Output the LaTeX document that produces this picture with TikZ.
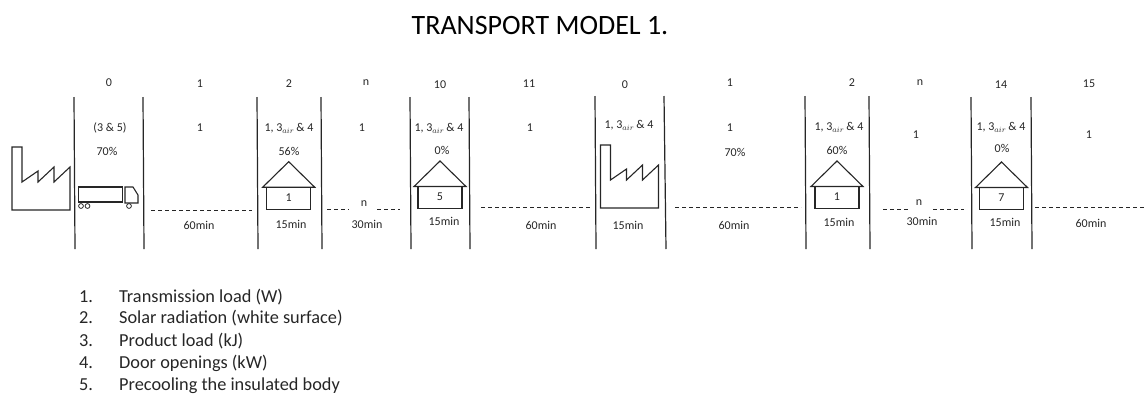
\documentclass[tikz,border=0pt]{standalone}
\usepackage{fontspec}
\setmainfont{Carlito}
\definecolor{ink}{gray}{0.15}
\tikzset{
  x=1pt,y=-1pt,
  lbl/.style={text=ink,font=\fontsize{12}{14}\selectfont,inner sep=0pt,anchor=center},
  wall/.style={draw=ink,line width=1.2pt},
  outline/.style={draw=ink,line width=1.1pt},
  dash line/.style={draw=ink,line width=0.9pt,dash pattern=on 4pt off 3pt},
  listitem/.style={text=ink,font=\fontsize{18.3}{20}\selectfont,inner sep=0pt,anchor=base west},
}
\newcommand{\airlbl}{1, 3$_{air}$\,\& 4}
\newcommand{\housepic}[3]{% x-apex, y-apex, label
  \draw[outline] (#1-26,#2+25.5) -- (#1,#2) -- (#1+26,#2+25.5) -- cycle;
  \draw[outline] (#1-22,#2+25.5) rectangle (#1+22,#2+47.5);
  \node[lbl] (house#3) at (#1,#2+35.5) {#3};
}
\newcommand{\factorypic}[2]{% left x, bottom y
  \draw[outline] (#1,#2) -- (#1,#2-63) -- (#1+10,#2-63) -- (#1+10,#2-28) -- (#1+26,#2-39) -- (#1+26,#2-28) -- (#1+42,#2-43) -- (#1+42,#2-28) -- (#1+58,#2-43) -- (#1+58,#2) -- cycle;
}
\begin{document}
\begin{tikzpicture}
\useasboundingbox (0,0) rectangle (1145,394);
\node[text=black,font=\fontsize{28}{30}\selectfont,inner sep=0pt] (title) at (540,26) {TRANSPORT MODEL 1.};

% vertical walls
\foreach \n/\xa/\xb/\ya in {a/74/75/97,b/143/144/97,c/257/258/97,d/321/322/97,e/410/411/97,f/469/470/97,g/595/596/96,h/664/666/96,i/805/806/96,j/869/870/96,k/971/972/97,l/1031/1032/97}{
  \coordinate (w\n t) at (\xa,\ya);
  \coordinate (w\n b) at (\xb,249);
  \draw[wall] (w\n t) -- (w\n b);
}

% top numbers
\node[lbl] (t1) at (109,83) {0};
\node[lbl] (t2) at (200,84) {1};
\node[lbl] (t3) at (289,84) {2};
\node[lbl] (t4) at (366,83) {n};
\node[lbl] (t5) at (440,85) {10};
\node[lbl] (t6) at (529,84) {11};
\node[lbl] (t7) at (625,85) {0};
\node[lbl] (t8) at (730,83) {1};
\node[lbl] (t9) at (852,83) {2};
\node[lbl] (t10) at (920,83) {n};
\node[lbl] (t11) at (1001,85) {14};
\node[lbl] (t12) at (1089,84) {15};

% load labels
\node[lbl] (l1) at (110,128) {(3 \& 5)};
\node[lbl] (l2) at (200,128) {1};
\node[lbl] (l3) at (289,128) {\airlbl};
\node[lbl] (l4) at (362,128) {1};
\node[lbl] (l5) at (439,128) {\airlbl};
\node[lbl] (l6) at (530,128) {1};
\node[lbl] (l7) at (629,125) {\airlbl};
\node[lbl] (l8) at (730,128) {1};
\node[lbl] (l9) at (839,127) {\airlbl};
\node[lbl] (l10) at (916,135) {1};
\node[lbl] (l11) at (1001,127) {\airlbl};
\node[lbl] (l12) at (1089,135) {1};

% percentages
\node[lbl] (p1) at (107,151) {70\%};
\node[lbl] (p2) at (289,151) {56\%};
\node[lbl] (p3) at (442,150) {0\%};
\node[lbl] (p4) at (735,152) {70\%};
\node[lbl] (p5) at (837,150) {60\%};
\node[lbl] (p6) at (1002,148) {0\%};

% durations
\node[lbl] (d1) at (199,225) {60min};
\node[lbl] (d2) at (291,224) {15min};
\node[lbl] (d3) at (367,224) {30min};
\node[lbl] (d4) at (444,221) {15min};
\node[lbl] (d5) at (541,225) {60min};
\node[lbl] (d6) at (628,225) {15min};
\node[lbl] (d7) at (734,225) {60min};
\node[lbl] (d8) at (839,222) {15min};
\node[lbl] (d9) at (922,221) {30min};
\node[lbl] (d10) at (1005,222) {15min};
\node[lbl] (d11) at (1091,223) {60min};

% n labels on the dashed lines
\node[lbl] (n1) at (364,204) {n};
\node[lbl] (n2) at (919,203) {n};

% dashed links
\foreach \n/\xa/\xb/\yy in {a/151/252/210,b/327/349/209,c/377/400/209,d/481/592/207,e/675/801/207,f/883/908/209,g/933/964/209,h/1035/1145/207}{
  \coordinate (s\n) at (\xa,\yy);
  \coordinate (e\n) at (\xb,\yy);
  \draw[dash line] (s\n) -- (e\n);
}

% factories
\factorypic{12}{210}
\factorypic{600.5}{208}

% truck
\draw[outline] (78.5,187) rectangle (122.5,202);
\draw[outline] (125,187) -- (133,187) -- (138,195) -- (138,203) -- (125,203) -- cycle;
\draw[outline,line width=0.8pt] (81,206) circle (2.4) (87.5,206) circle (2.4) (129,206) circle (2.4);

% houses
\housepic{288.7}{161.7}{1}
\housepic{440}{161}{5}
\housepic{837}{161}{1}
\housepic{1001.5}{162}{7}

% legend
\foreach \k/\yy/\txt in {1/302/Transmission load (W),2/323/Solar radiation (white surface),3/346/Product load (kJ),4/368/Door openings (kW),5/390/Precooling the insulated body}{
  \node[listitem] (num\k) at (79,\yy) {\k.};
  \node[listitem] (item\k) at (119,\yy) {\txt};
}
\end{tikzpicture}
\end{document}
